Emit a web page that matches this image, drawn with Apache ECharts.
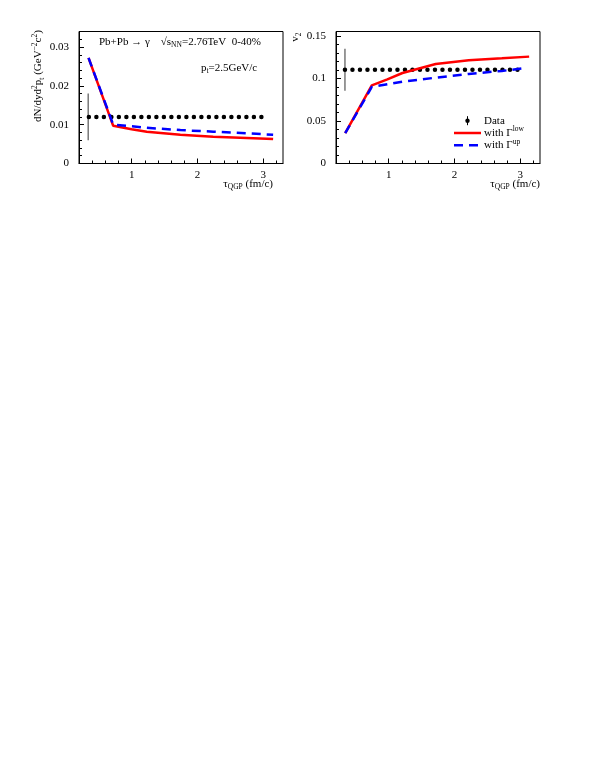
<!DOCTYPE html>
<html><head><meta charset="utf-8">
<script src="https://cdn.jsdelivr.net/npm/echarts@6/dist/echarts.min.js"></script>
<style>html,body{margin:0;padding:0;background:#fff}#c{width:595px;height:770px}</style>
</head><body><div id="c"></div>
<script>
// ---- data ----
const xRange = [0.2, 3.3];
const yMaxLeft = 0.034, yMaxRight = 0.155;
const xMajor = [1, 2, 3];
const xMinor = [0.4,0.6,0.8,1.2,1.4,1.6,1.8,2.2,2.4,2.6,2.8,3.2];
const yMajorLeft = [0, 0.01, 0.02, 0.03];
const yMinorLeft = [0.002,0.004,0.006,0.008,0.012,0.014,0.016,0.018,0.022,0.024,0.026,0.028,0.032];
const yMajorRight = [0, 0.05, 0.1, 0.15];
const yMinorRight = [0.01,0.02,0.03,0.04,0.06,0.07,0.08,0.09,0.11,0.12,0.13,0.14];

// left panel: yield
const lowTauL = [0.345, 0.72, 1.0, 1.23, 1.74, 2.24, 2.75, 3.15];
const lowYieldL = [0.0272, 0.0097, 0.0088, 0.0082, 0.0074, 0.0069, 0.0066, 0.0063];
const upTauL = [0.345, 0.72, 1.0, 1.23, 1.74, 2.24, 2.75, 3.15];
const upYieldL = [0.0272, 0.0100, 0.0096, 0.0092, 0.0086, 0.0082, 0.0078, 0.0074];
const dataYield = 0.012, dataYieldErr = 0.006, dataTauL = 0.34, dataLineEndL = 3.07;

// right panel: v2
const lowTauR = [0.34, 0.744, 0.98, 1.21, 1.715, 2.218, 2.72, 3.135];
const lowV2R = [0.0357, 0.0918, 0.0988, 0.1063, 0.1169, 0.1212, 0.1235, 0.1255];
const upTauR = [0.34, 0.744, 1.21, 1.715, 2.218, 2.72, 3.05];
const upV2R = [0.0357, 0.0899, 0.0961, 0.1008, 0.1052, 0.1087, 0.1118];
const dataV2 = 0.11, dataV2Err = 0.0247, dataTauR = 0.336, dataLineEndR = 3.05;

// legend labels
const legendNames = ['Data', 'with Γ', 'with Γ'];
const legendSups = ['', 'low', 'up'];

const zip = (a, b) => a.map((v, i) => [v, b[i]]);
const FONT = 'Liberation Serif';

function mainX(gi) {
  return { type:'value', gridIndex:gi, min:xRange[0], max:xRange[1], position:'bottom',
    axisLine:{show:true, lineStyle:{color:'#000', width:1}},
    axisTick:{show:true, inside:true, length:5, customValues:xMajor, lineStyle:{color:'#000'}},
    axisLabel:{show:true, customValues:xMajor, margin:6, fontFamily:FONT, fontSize:11, color:'#000'},
    splitLine:{show:false} };
}
function minorX(gi) {
  return { type:'value', gridIndex:gi, min:xRange[0], max:xRange[1], position:'bottom', offset:0,
    axisLine:{show:false},
    axisTick:{show:true, inside:true, length:3, customValues:xMinor, lineStyle:{color:'#000'}},
    axisLabel:{show:false}, splitLine:{show:false} };
}
function mainY(gi, max, major) {
  return { type:'value', gridIndex:gi, min:0, max:max, position:'left',
    axisLine:{show:true, lineStyle:{color:'#000', width:1}},
    axisTick:{show:true, inside:true, length:5, customValues:major, lineStyle:{color:'#000'}},
    axisLabel:{show:true, customValues:major, margin:10, fontFamily:FONT, fontSize:11, color:'#000'},
    splitLine:{show:false} };
}
function minorY(gi, max, minor) {
  return { type:'value', gridIndex:gi, min:0, max:max, position:'left', offset:0,
    axisLine:{show:false},
    axisTick:{show:true, inside:true, length:3, customValues:minor, lineStyle:{color:'#000'}},
    axisLabel:{show:false}, splitLine:{show:false} };
}

const chart = echarts.init(document.getElementById('c'), null, {renderer:'canvas'});
const rich = {
  n:{fontFamily:FONT, fontSize:11, color:'#000'},
  s:{fontFamily:FONT, fontSize:7.5, color:'#000', padding:[7,0,0,0]},
  u:{fontFamily:FONT, fontSize:7.5, color:'#000', padding:[0,0,7,0]}
};
function txt(x, y, text, rot, align) {
  return { type:'text', x:x, y:y, rotation: rot || 0,
    style:{ text:text, rich:rich, font:'11px '+FONT, fill:'#000', align: align || 'left', verticalAlign:'middle' } };
}

// legend (graphic) geometry
const LX = 454, LW = 27, LY0 = 120.7, LDY = 12.3;
const legendGraphics = [
  {type:'line', shape:{x1:LX+13.5, y1:LY0-4.5, x2:LX+13.5, y2:LY0+4.5}, style:{stroke:'#000', lineWidth:1}},
  {type:'circle', shape:{cx:LX+13.5, cy:LY0, r:2.2}, style:{fill:'#000'}},
  {type:'line', shape:{x1:LX, y1:LY0+LDY, x2:LX+LW, y2:LY0+LDY}, style:{stroke:'#ff0000', lineWidth:2.5}},
  {type:'line', shape:{x1:LX, y1:LY0+2*LDY, x2:LX+LW, y2:LY0+2*LDY}, style:{stroke:'#0000ff', lineWidth:2.5, lineDash:[9,6]}}
];
legendNames.forEach((n, i) => {
  const t = '{n|' + n + '}' + (legendSups[i] ? '{u|' + legendSups[i] + '}' : '');
  legendGraphics.push(txt(LX + LW + 3, LY0 + i*LDY, t));
});

chart.setOption({
  animation:false,
  grid:[
    {left:79, top:31.5, width:204, height:132, show:true, borderColor:'#000', borderWidth:1, backgroundColor:'transparent'},
    {left:336, top:31.5, width:204, height:132, show:true, borderColor:'#000', borderWidth:1, backgroundColor:'transparent'}
  ],
  xAxis:[mainX(0), minorX(0), mainX(1), minorX(1)],
  yAxis:[mainY(0, yMaxLeft, yMajorLeft), minorY(0, yMaxLeft, yMinorLeft),
         mainY(1, yMaxRight, yMajorRight), minorY(1, yMaxRight, yMinorRight)],
  series:[
    // left panel
    {type:'line', name:'errL', xAxisIndex:0, yAxisIndex:0, symbol:'none', silent:true,
      data:[[dataTauL, dataYield-dataYieldErr],[dataTauL, dataYield+dataYieldErr]],
      lineStyle:{color:'#777', width:1.5}},
    {type:'line', name:'DataL', xAxisIndex:0, yAxisIndex:0, symbol:'none',
      data:[[dataTauL+0.01, dataYield],[dataLineEndL, dataYield]],
      lineStyle:{color:'#000', width:4.5, type:[0.001, 7.5], cap:'round'}},
    {type:'line', name:'low', xAxisIndex:0, yAxisIndex:0, symbol:'none',
      data:zip(lowTauL, lowYieldL), lineStyle:{color:'#ff0000', width:2.5}},
    {type:'line', name:'up', xAxisIndex:0, yAxisIndex:0, symbol:'none',
      data:zip(upTauL, upYieldL), lineStyle:{color:'#0000ff', width:2.5, type:[9,6]}},
    // right panel
    {type:'line', name:'errR', xAxisIndex:2, yAxisIndex:2, symbol:'none', silent:true,
      data:[[dataTauR, dataV2-dataV2Err],[dataTauR, dataV2+dataV2Err]],
      lineStyle:{color:'#777', width:1.5}},
    {type:'line', name:'Data', xAxisIndex:2, yAxisIndex:2, symbol:'none',
      data:[[dataTauR, dataV2],[dataLineEndR, dataV2]],
      lineStyle:{color:'#000', width:4.5, type:[0.001, 7.5], cap:'round'}},
    {type:'line', name:'low', xAxisIndex:2, yAxisIndex:2, symbol:'none',
      data:zip(lowTauR, lowV2R), lineStyle:{color:'#ff0000', width:2.5}},
    {type:'line', name:'up', xAxisIndex:2, yAxisIndex:2, symbol:'none',
      data:zip(upTauR, upV2R), lineStyle:{color:'#0000ff', width:2.5, type:[9,6]}}
  ],
  graphic:[
    txt(99, 42, '{n|Pb+Pb → γ    √s}{s|NN}{n|=2.76TeV  0-40%}'),
    txt(201, 68, '{n|p}{s|t}{n|=2.5GeV/c}'),
    txt(38.5, 76, '{n|dN/dyd}{u|2}{n|p}{s|t}{n| (GeV}{u|−2}{n|c}{u|2}{n|)}', Math.PI/2, 'center'),
    txt(295.5, 37, '{n|v}{s|2}', Math.PI/2, 'center'),
    txt(273, 184, '{n|τ}{s|QGP}{n| (fm/c)}', 0, 'right'),
    txt(540, 184, '{n|τ}{s|QGP}{n| (fm/c)}', 0, 'right')
  ].concat(legendGraphics)
});
</script></body></html>
